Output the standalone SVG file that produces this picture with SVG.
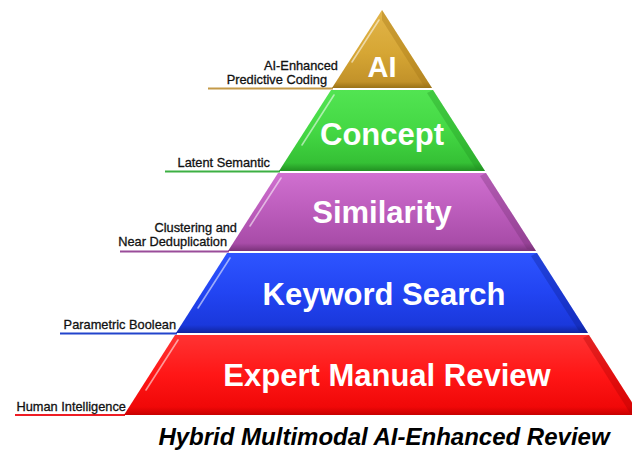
<svg xmlns="http://www.w3.org/2000/svg" width="632" height="452" viewBox="0 0 632 452">
<style>
.lbl{font-family:"Liberation Sans",Arial,sans-serif;font-size:12.8px;fill:#111;stroke:#111;stroke-width:0.3;text-anchor:end}
.big{font-family:"Liberation Sans",Arial,sans-serif;font-weight:bold;font-size:31px;fill:#fff;text-anchor:middle}
.title{font-family:"Liberation Sans",Arial,sans-serif;font-weight:bold;font-style:italic;font-size:24px;fill:#000;text-anchor:middle}
.hl{fill:none;stroke:#fff;stroke-opacity:0.55;stroke-width:1.6;stroke-linecap:round}
.conn{fill:none;stroke-width:2}
</style>
<defs>
<linearGradient id="gAI" x1="0" y1="0" x2="0" y2="1">
<stop offset="0" stop-color="#e2b54a"/><stop offset="0.55" stop-color="#d6a634"/><stop offset="0.92" stop-color="#c2922a"/><stop offset="1" stop-color="#9a7218"/>
</linearGradient>
<linearGradient id="gCo" x1="0" y1="0" x2="0" y2="1">
<stop offset="0" stop-color="#52e452"/><stop offset="0.5" stop-color="#44d844"/><stop offset="0.9" stop-color="#35c035"/><stop offset="1" stop-color="#229022"/>
</linearGradient>
<linearGradient id="gSi" x1="0" y1="0" x2="0" y2="1">
<stop offset="0" stop-color="#d070d0"/><stop offset="0.5" stop-color="#bb5cbb"/><stop offset="0.9" stop-color="#a84ca8"/><stop offset="1" stop-color="#7a327a"/>
</linearGradient>
<linearGradient id="gKe" x1="0" y1="0" x2="0" y2="1">
<stop offset="0" stop-color="#2e55ff"/><stop offset="0.5" stop-color="#2244f2"/><stop offset="0.9" stop-color="#1a38dc"/><stop offset="1" stop-color="#10249e"/>
</linearGradient>
<linearGradient id="gEx" x1="0" y1="0" x2="0" y2="1">
<stop offset="0" stop-color="#ff3333"/><stop offset="0.5" stop-color="#ff1616"/><stop offset="0.9" stop-color="#f00808"/><stop offset="1" stop-color="#c80000"/>
</linearGradient>
</defs>
<rect width="632" height="452" fill="#fff"/>

<g id="connectors">
<line class="conn" x1="208" y1="88.5" x2="333" y2="88.5" stroke="#c49a48"/>
<line class="conn" x1="165" y1="171.5" x2="280" y2="171.5" stroke="#3cb043"/>
<line class="conn" x1="120" y1="251.5" x2="229" y2="251.5" stroke="#9a4c9a"/>
<line class="conn" x1="60" y1="333.5" x2="177" y2="333.5" stroke="#2244cc"/>
<line class="conn" x1="15" y1="415" x2="125" y2="415" stroke="#ee1c24"/>
</g>

<g id="tier-ai">
<polygon points="382,10 432,88 332,88" fill="url(#gAI)"/>
<polygon points="382,10 432,88 424,86 382,20" fill="#a07414" fill-opacity="0.35"/>
<line class="hl" x1="379" y1="20" x2="352" y2="62"/>
<text class="big" x="382" y="77" style="font-size:29px">AI</text>
<text class="lbl" x="338" y="70">AI-Enhanced</text>
<text class="lbl" x="327" y="84">Predictive Coding</text>
</g>

<g id="tier-concept">
<polygon points="331,90 433,90 485,171 279,171" fill="url(#gCo)"/>
<polygon points="433,90 485,171 476,169 427,93" fill="#1f8a1f" fill-opacity="0.3"/>
<line class="hl" x1="334" y1="95" x2="302" y2="145"/>
<text class="big" x="382" y="145">Concept</text>
<text class="lbl" x="270" y="167">Latent Semantic</text>
</g>

<g id="tier-similarity">
<polygon points="278,173 486,173 536,251 228,251" fill="url(#gSi)"/>
<polygon points="486,173 536,251 527,249 480,176" fill="#6a2a6a" fill-opacity="0.3"/>
<line class="hl" x1="281" y1="178" x2="250" y2="226"/>
<text class="big" x="382" y="223">Similarity</text>
<text class="lbl" x="237" y="232">Clustering and</text>
<text class="lbl" x="227" y="246">Near Deduplication</text>
</g>

<g id="tier-keyword">
<polygon points="227,253 537,253 588,333 176,333" fill="url(#gKe)"/>
<polygon points="537,253 588,333 579,331 531,256" fill="#0a1a80" fill-opacity="0.3"/>
<line class="hl" x1="230" y1="258" x2="198" y2="308"/>
<text class="big" x="384" y="305">Keyword Search</text>
<text class="lbl" x="176" y="329">Parametric Boolean</text>
</g>

<g id="tier-expert">
<polygon points="175,335 589,335 640,415 124,415" fill="url(#gEx)"/>
<polygon points="589,335 640,415 630,413 583,338" fill="#a00000" fill-opacity="0.3"/>
<line class="hl" x1="178" y1="340" x2="146" y2="390"/>
<text class="big" x="387" y="386">Expert Manual Review</text>
<text class="lbl" x="126" y="411">Human Intelligence</text>
</g>

<g id="title">
<text class="title" x="384" y="445">Hybrid Multimodal AI-Enhanced Review</text>
</g>
</svg>
